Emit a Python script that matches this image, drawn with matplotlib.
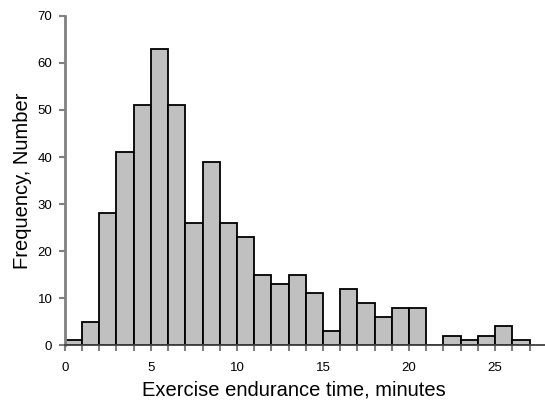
import numpy as np
import matplotlib
matplotlib.use("Agg")
import matplotlib.pyplot as plt

plt.rcParams['font.family'] = ['Liberation Sans', 'DejaVu Sans']

# histogram bins, 1 minute wide
bin_edges = list(range(0, 28))
counts = [1, 5, 28, 41, 51, 63, 51, 26, 39, 26, 23, 15, 13, 15, 11, 3,
          12, 9, 6, 8, 8, 0, 2, 1, 2, 4, 1]

fig = plt.figure(figsize=(5.45, 4.08), dpi=100)
ax = fig.add_axes([0.119, 0.154, 0.881, 0.807])

left = np.array(bin_edges[:-1])
ax.bar(left, counts, width=1.0, align='edge', color='#c0c0c0',
       edgecolor='black', linewidth=1.3)

ax.set_xlim(0, 27.9)
ax.set_ylim(0, 70)
ax.set_xticks(range(0, 30, 5))
ax.set_xticks(range(0, 28), minor=True)
ax.set_yticks(range(0, 80, 10))

for s in ['top', 'right']:
    ax.spines[s].set_visible(False)
ax.spines['left'].set_color('#808080')
ax.spines['left'].set_linewidth(2)
ax.spines['bottom'].set_color('#404040')
ax.spines['bottom'].set_linewidth(1.3)

ax.tick_params(axis='both', which='both', direction='out', color='#808080',
               width=1.5, labelsize=9.5)
ax.tick_params(axis='both', which='major', length=4)
ax.tick_params(axis='x', which='minor', length=4)
ax.tick_params(axis='x', which='major', pad=8)
ax.tick_params(axis='y', which='major', pad=5)

ax.set_xlabel("Exercise endurance time, minutes", fontsize=14.5, labelpad=5)
ax.xaxis.label.set_x(0.478)
ax.set_ylabel("Frequency, Number", fontsize=14.5, labelpad=4)

fig.savefig("out.png", dpi=100)
